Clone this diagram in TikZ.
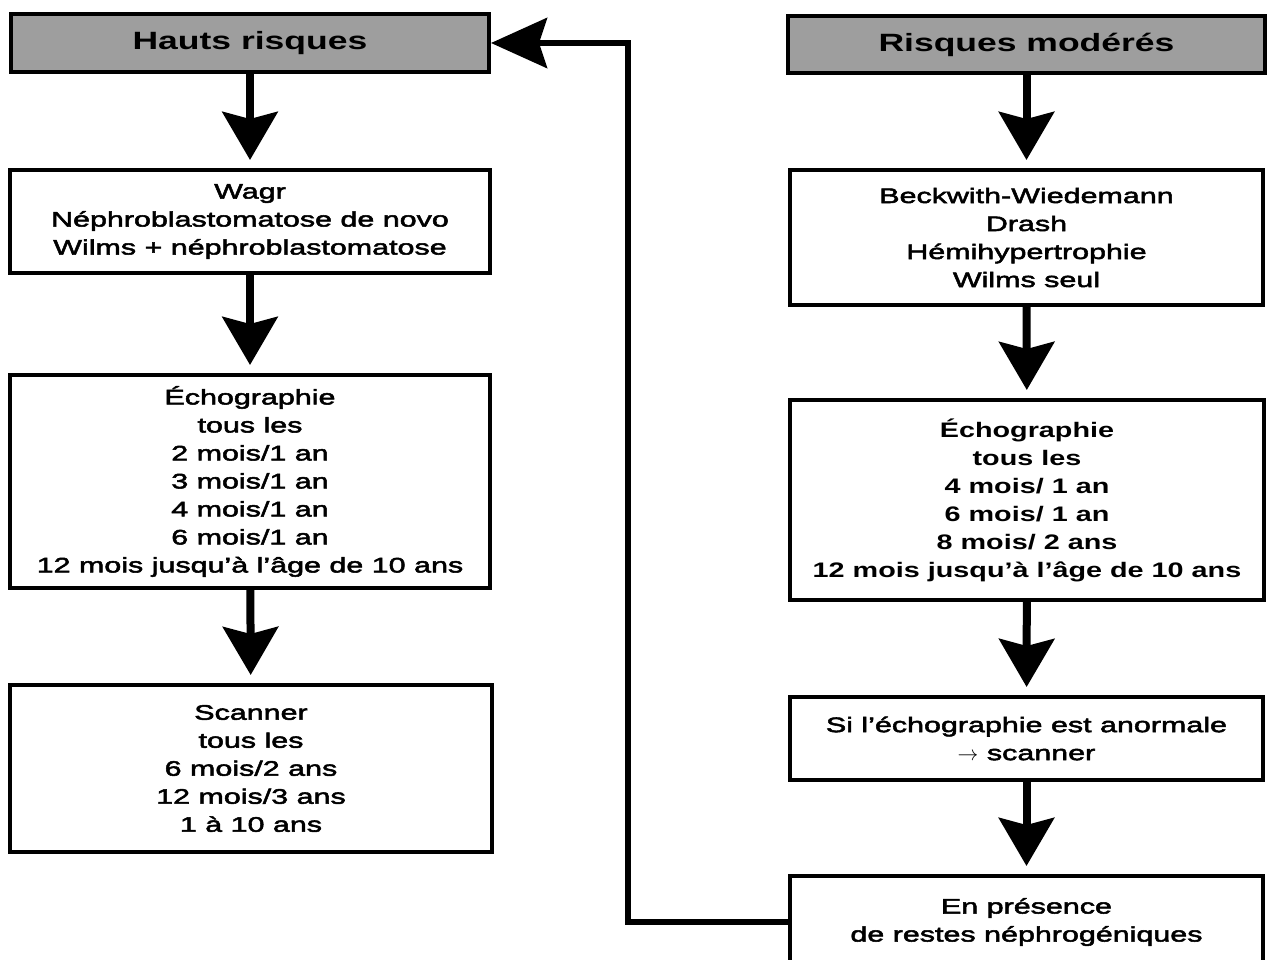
\documentclass[tikz,border=0pt]{standalone}
\usepackage{fontspec}
\usetikzlibrary{arrows.meta}
\newfontfamily\bodyfont[FakeStretch=1.45,FakeBold=2.5]{Liberation Sans}
\newfontfamily\heavyfont[FakeStretch=1.37]{Liberation Sans Bold}
\newfontfamily\titlefont[FakeStretch=1.42]{Liberation Sans Bold}
\tikzset{
  box/.style={draw, line width=4pt, align=center, inner sep=0pt,
    font=\bodyfont\fontsize{21}{28}\selectfont},
  heavybox/.style={box, font=\heavyfont\fontsize{21}{28}\selectfont},
  titlebox/.style={box, fill=black!38, font=\titlefont\fontsize{25}{30}\selectfont},
  arr/.style={line width=8pt, shorten >=8pt, -{Stealth[length=48pt,width=55pt,inset=7pt]}},
  fbarr/.style={line width=6pt, -{Stealth[length=56pt,width=50pt,inset=8pt]}},
}
\begin{document}
\begin{tikzpicture}[x=1pt,y=-1pt]
\fill[white] (0,0) rectangle (1277,960);
\useasboundingbox (0,0) rectangle (1277,960);
% left column
\node[titlebox, minimum width=478pt, minimum height=58pt] (A) at (250,43) {Hauts risques};
\node[box, minimum width=480pt, minimum height=103pt] (B) at (250,221.5)
  {Wagr\\Néphroblastomatose de novo\\Wilms + néphroblastomatose};
\node[box, minimum width=480pt, minimum height=213pt] (C) at (250,481.5)
  {Échographie\\tous les\\2 mois/1 an\\3 mois/1 an\\4 mois/1 an\\6 mois/1 an\\12 mois jusqu’à l’âge de 10 ans};
\node[box, minimum width=482pt, minimum height=167pt] (D) at (251,768.5)
  {Scanner\\tous les\\6 mois/2 ans\\12 mois/3 ans\\1 à 10 ans};
% right column
\node[titlebox, minimum width=477pt, minimum height=57pt] (E) at (1026.5,44.5) {Risques modérés};
\node[box, minimum width=473pt, minimum height=135pt] (F) at (1026.5,237.5)
  {Beckwith-Wiedemann\\Drash\\Hémihypertrophie\\Wilms seul};
\node[heavybox, minimum width=474pt, minimum height=200pt] (G) at (1027,500)
  {Échographie\\tous les\\4 mois/ 1 an\\6 mois/ 1 an\\8 mois/ 2 ans\\12 mois jusqu’à l’âge de 10 ans};
\node[box, minimum width=473pt, minimum height=83pt] (H) at (1026.5,738.5)
  {Si l’échographie est anormale\\$\rightarrow$ scanner};
\node[box, minimum width=473pt, minimum height=92pt] (I) at (1026.5,922)
  {En présence\\de restes néphrogéniques};
% connectors
\draw[arr] (A) -- (B);
\draw[arr] (B) -- (C);
\draw[arr] (C) -- (D);
\draw[arr] (E) -- (F);
\draw[arr] (F) -- (G);
\draw[arr] (G) -- (H);
\draw[arr] (H) -- (I);
\coordinate (fb) at (628,43);
\draw[fbarr] (I.west) -| (fb) -- (A.east);
\end{tikzpicture}
\end{document}
